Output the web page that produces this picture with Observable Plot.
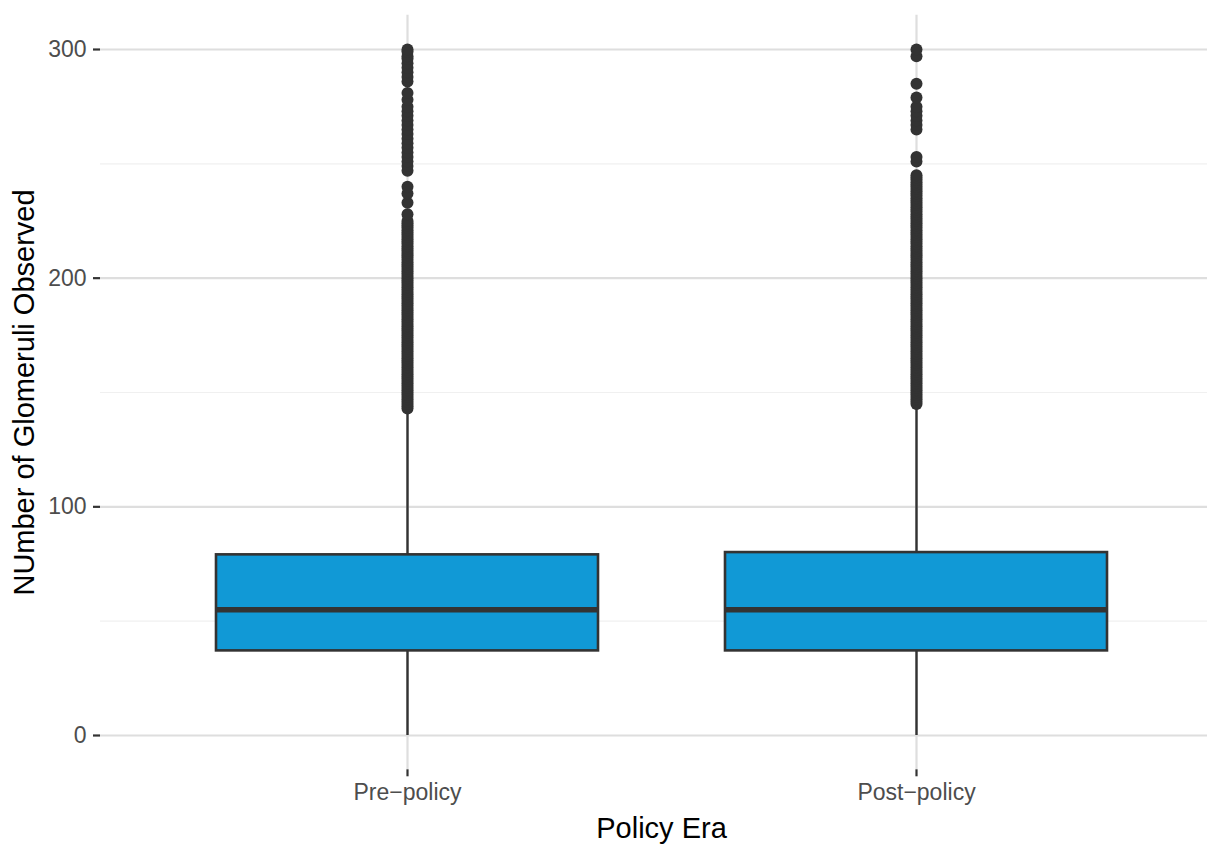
<!DOCTYPE html>
<html><head><meta charset="utf-8">
<script src="https://cdn.jsdelivr.net/npm/d3@7"></script>
<script src="https://cdn.jsdelivr.net/npm/@observablehq/plot@0.6"></script>
<style>body{margin:0;background:#fff} svg{display:block}</style>
</head><body><div id="chart"></div>
<script>
const categories = ["Pre−policy", "Post−policy"];
const q1 = [37, 37];
const median = [55, 55];
const q3 = [79, 80];
const whiskerLow = [0, 0];
const whiskerHigh = [142, 144];
const preOutliers = [143,144,145,146,147,148,149,150,151,152,153,154,155,156,157,158,159,160,161,162,163,164,165,166,167,168,169,170,171,172,173,174,175,176,177,178,179,180,181,182,183,184,185,186,187,188,189,190,191,192,193,194,195,196,197,198,199,200,201,202,203,204,205,206,207,208,209,210,211,212,213,214,215,216,217,218,219,220,221,222,223,224,225,
  228,233,237,240,247,249,251,253,255,257,259,261,263,265,267,269,271,273,275,278,281,286,288,290,292,294,296,297,299,300];
const postOutliers = [145,146,147,148,149,150,151,152,153,154,155,156,157,158,159,160,161,162,163,164,165,166,167,168,169,170,171,172,173,174,175,176,177,178,179,180,181,182,183,184,185,186,187,188,189,190,191,192,193,194,195,196,197,198,199,200,201,202,203,204,205,206,207,208,209,210,211,212,213,214,215,216,217,218,219,220,221,222,223,224,225,226,227,228,229,230,231,232,233,234,235,236,237,238,239,240,241,242,243,244,245,
  251,253,265,267,269,271,273,275,279,285,297,300];
const yTicks = [0, 100, 200, 300];
const yMinorTicks = [50, 150, 250];
const xTitle = "Policy Era";
const yTitle = "NUmber of Glomeruli Observed";

const stats = categories.map((c, i) => ({era: c, q1: q1[i], median: median[i], q3: q3[i], lo: whiskerLow[i], hi: whiskerHigh[i]}));
const outliers = [
  ...preOutliers.map(v => ({era: categories[0], value: v})),
  ...postOutliers.map(v => ({era: categories[1], value: v}))
];

const chart = Plot.plot({
  width: 1207, height: 846,
  marginLeft: 100, marginRight: 0, marginTop: 14.7, marginBottom: 76.7,
  style: {fontFamily: "'Liberation Sans', Arial, sans-serif", background: "#fff"},
  x: {type: "band", domain: categories, range: [100.8, 1221.7], paddingInner: 0.25, paddingOuter: 0.225, align: 0.5},
  y: {domain: [-15, 315]},
  marks: [
    Plot.ruleY(yMinorTicks, {stroke: "#F0F0F0", strokeWidth: 1.2}),
    Plot.ruleY(yTicks, {stroke: "#DEDEDE", strokeWidth: 2.2}),
    Plot.ruleX(categories, {x: d => d, stroke: "#DEDEDE", strokeWidth: 2.2}),
    Plot.ruleX(stats, {x: "era", y1: "lo", y2: "q1", stroke: "#333333", strokeWidth: 2.4}),
    Plot.ruleX(stats, {x: "era", y1: "q3", y2: "hi", stroke: "#333333", strokeWidth: 2.4}),
    Plot.barY(stats, {x: "era", y1: "q1", y2: "q3", fill: "#1199D6", stroke: "#333333", strokeWidth: 2.6}),
    Plot.tickY(stats, {x: "era", y: "median", stroke: "#333333", strokeWidth: 5.3}),
    Plot.dot(outliers, {x: "era", y: "value", r: 6, fill: "#333333", stroke: "none"}),
    Plot.axisY({ticks: yTicks, tickSize: 7, tickPadding: 7, fontSize: 23, fill: "#4D4D4D", stroke: "#333333", strokeWidth: 2.2, label: null}),
    Plot.axisX({tickSize: 7, tickPadding: 7, fontSize: 23, fill: "#4D4D4D", stroke: "#333333", strokeWidth: 2.2, label: null}),
    Plot.text([xTitle], {frameAnchor: "bottom", dx: 7.5, dy: 67.7, lineAnchor: "bottom", textAnchor: "middle", fontSize: 29, fill: "#000"}),
    Plot.text([yTitle], {frameAnchor: "left", rotate: -90, dx: -67, lineAnchor: "bottom", textAnchor: "middle", fontSize: 29, fill: "#000"})
  ]
});
document.getElementById("chart").appendChild(chart);
</script>
</body></html>
